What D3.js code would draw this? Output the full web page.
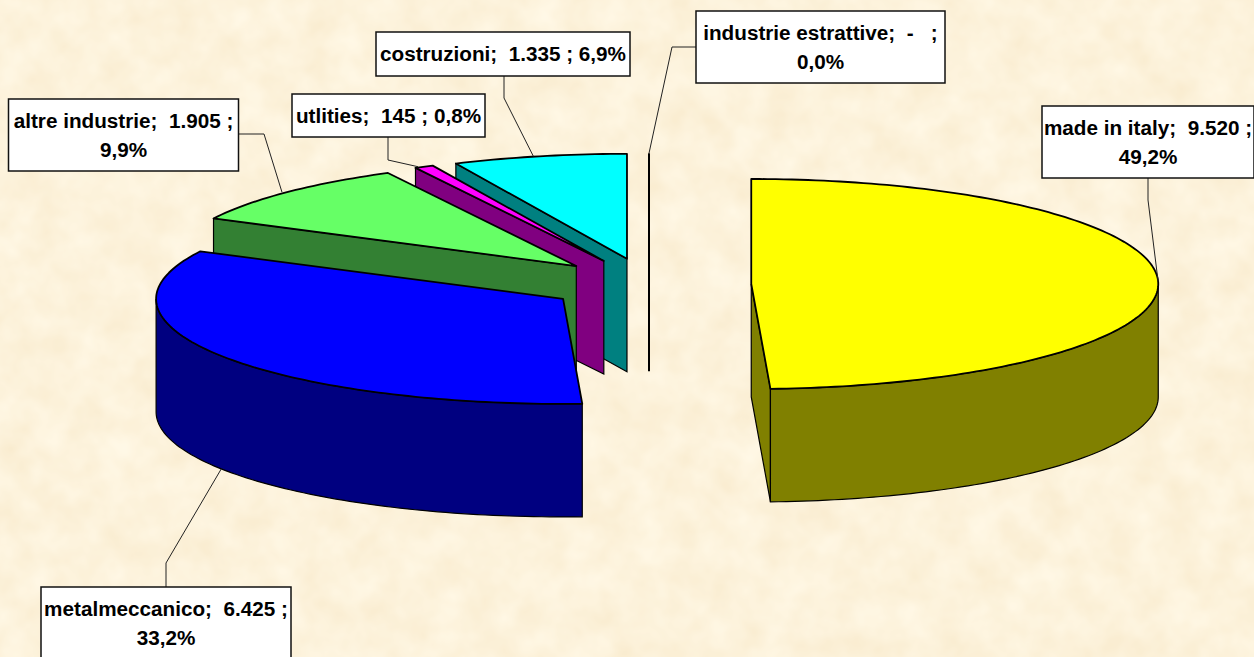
<!DOCTYPE html>
<html>
<head>
<meta charset="utf-8">
<script src="https://cdn.jsdelivr.net/npm/d3@7"></script>
<style>
html, body { margin: 0; padding: 0; background: #fdf3dc; overflow: hidden; }
text { font-family: "Liberation Sans", Arial, sans-serif; font-weight: bold; font-size: 20.7px; white-space: pre; }
</style>
</head>
<body>
<svg id="chart" width="1254" height="657"></svg>
<script>
let categories = ["made in italy", "metalmeccanico", "altre industrie", "utlities", "costruzioni", "industrie estrattive"];
let values = [9520, 6425, 1905, 145, 1335, 0];
let valueLabels = ["9.520", "6.425", "1.905", "145", "1.335", "-  "];
let percentLabels = ["49,2%", "33,2%", "9,9%", "0,8%", "6,9%", "0,0%"];
let topColors = ["#ffff00", "#0000ff", "#66ff66", "#ff00ff", "#00ffff", "#000000"];
let sideColors = ["#808000", "#000080", "#338033", "#800080", "#008080", "#000000"];

// where the label boxes sit, same order as categories
let labelBoxes = [
	{x: 1042, y: 106, w: 212, h: 72, lines: 2, elbow: [1148, 200], link: [1148, 178], nudge: 0, wall: false},
	{x: 41, y: 587, w: 250, h: 72, lines: 2, elbow: [166, 563], link: [166, 587], nudge: 0, wall: true},
	{x: 8.5, y: 99, w: 230, h: 72, lines: 2, elbow: [264, 134], link: [239, 134], nudge: -5, wall: false},
	{x: 292, y: 94, w: 193, h: 43, lines: 1, elbow: [388, 160], link: [388, 137], nudge: -6, wall: false},
	{x: 376, y: 32, w: 254, h: 44, lines: 1, elbow: [504, 98], link: [504, 76], nudge: -6, wall: false},
	{x: 696, y: 11, w: 249, h: 72, lines: 2, elbow: [672, 47], link: [696, 47], nudge: 0, wall: false}
];

let centerX = 649;
let centerY = 284.6;
let radiusX = 407;
let radiusY = 105;
let explode = 0.2513;
let depth = 113;

var x = d3.scaleLinear().domain([-1, 1]).range([centerX - radiusX, centerX + radiusX]);
var y = d3.scaleLinear().domain([-1, 1]).range([centerY - radiusY, centerY + radiusY]);

var slices = d3.pie().sort(null).value(function(d) { return d; })(values);
var line = d3.line();

// point of the tilted disc, angle 0 is up and it goes clockwise
function point(mid, angle, r, drop) {
	return [
		x(explode * Math.sin(mid) + r * Math.sin(angle)),
		y(-explode * Math.cos(mid) - r * Math.cos(angle)) + drop
	];
}

function rim(mid, a0, a1, drop) {
	var steps = Math.max(2, Math.ceil((a1 - a0) / 0.02));
	return d3.range(steps + 1).map(function(i) {
		return point(mid, a0 + (a1 - a0) * i / steps, 1, drop);
	});
}

function midAngle(d) {
	return (d.startAngle + d.endAngle) / 2;
}

var svg = d3.select("#chart");

// parchment background
var filter = svg.append("defs").append("filter")
	.attr("id", "paper")
	.attr("color-interpolation-filters", "sRGB")
	.attr("x", 0).attr("y", 0).attr("width", "100%").attr("height", "100%");
filter.append("feTurbulence")
	.attr("type", "fractalNoise")
	.attr("baseFrequency", 0.03)
	.attr("numOctaves", 3)
	.attr("seed", 7);
filter.append("feColorMatrix")
	.attr("type", "matrix")
	.attr("values", "0.03 0 0 0 0.975  0.06 0 0 0 0.92  0.11 0 0 0 0.805  0 0 0 0 1");

svg.append("rect")
	.attr("width", 1254)
	.attr("height", 657)
	.attr("filter", "url(#paper)");

// back slices first, yellow and blue go last so they cover the others
var drawOrder = [5, 4, 3, 2, 0, 1];

var groups = svg.selectAll(".slice")
	.data(drawOrder.map(function(i) { return slices[i]; }))
	.enter().append("g")
	.attr("class", "slice");

groups.each(function(d) {
	var g = d3.select(this);
	var mid = midAngle(d);
	var side = sideColors[d.index];
	var center = point(mid, 0, 0, 0);
	var centerLow = point(mid, 0, 0, depth);

	if (d.value == 0) {
		var top = point(mid, d.startAngle, 1, 0);
		g.append("path")
			.attr("d", line([top, [top[0], centerLow[1]]]))
			.attr("fill", "none")
			.attr("stroke", "#000")
			.attr("stroke-width", 2);
		return;
	}

	function wall(pts) {
		g.append("path")
			.attr("d", line(pts) + "Z")
			.attr("fill", side)
			.attr("stroke", "#000")
			.attr("stroke-width", 1.2);
	}

	if (Math.sin(d.startAngle) < -1e-6) {
		var s = point(mid, d.startAngle, 1, 0);
		var sLow = point(mid, d.startAngle, 1, depth);
		wall([center, s, sLow, centerLow]);
	}
	if (Math.sin(d.endAngle) > 1e-6) {
		var e = point(mid, d.endAngle, 1, 0);
		var eLow = point(mid, d.endAngle, 1, depth);
		wall([center, e, eLow, centerLow]);
	}

	var a0 = Math.max(d.startAngle, Math.PI / 2);
	var a1 = Math.min(d.endAngle, 3 * Math.PI / 2);
	if (a1 > a0) {
		wall(rim(mid, a0, a1, 0).concat(rim(mid, a0, a1, depth).reverse()));
	}

	g.append("path")
		.attr("d", line([center].concat(rim(mid, d.startAngle, d.endAngle, 0))) + "Z")
		.attr("fill", topColors[d.index])
		.attr("stroke", "#000")
		.attr("stroke-width", 1.8)
		.attr("stroke-linejoin", "round");
});

// leader lines run from the box to the middle of the slice rim
svg.selectAll(".leader")
	.data(slices)
	.enter().append("path")
	.attr("class", "leader")
	.attr("d", function(d) {
		var box = labelBoxes[d.index];
		var mid = midAngle(d);
		var end = point(mid, mid, 1, box.wall ? depth : 0);
		return line([box.link, box.elbow, [end[0] + box.nudge, end[1]]]);
	})
	.attr("fill", "none")
	.attr("stroke", "#222")
	.attr("stroke-width", 1);

var labels = svg.selectAll(".label")
	.data(slices)
	.enter().append("g")
	.attr("class", "label")
	.attr("transform", function(d) {
		return "translate(" + labelBoxes[d.index].x + "," + labelBoxes[d.index].y + ")";
	});

labels.append("rect")
	.attr("width", function(d) { return labelBoxes[d.index].w; })
	.attr("height", function(d) { return labelBoxes[d.index].h; })
	.attr("fill", "#fff")
	.attr("stroke", "#111")
	.attr("stroke-width", 1.5);

labels.append("text")
	.attr("x", function(d) { return labelBoxes[d.index].w / 2; })
	.attr("y", 29)
	.attr("text-anchor", "middle")
	.text(function(d) {
		var first = categories[d.index] + ";  " + valueLabels[d.index] + " ;";
		return labelBoxes[d.index].lines == 1 ? first + " " + percentLabels[d.index] : first;
	});

labels.filter(function(d) { return labelBoxes[d.index].lines == 2; })
	.append("text")
	.attr("x", function(d) { return labelBoxes[d.index].w / 2; })
	.attr("y", 58)
	.attr("text-anchor", "middle")
	.text(function(d) { return percentLabels[d.index]; });
</script>
</body>
</html>
